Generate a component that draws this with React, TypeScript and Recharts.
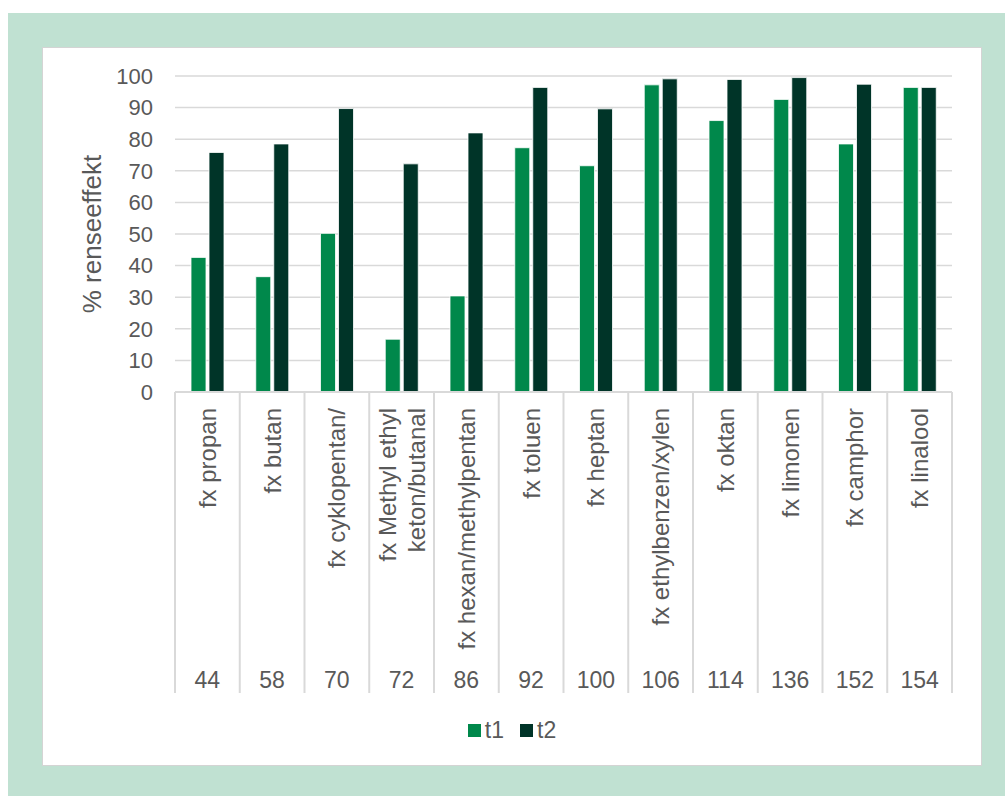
import React from 'react';
import { BarChart, Bar, XAxis, YAxis, CartesianGrid, Legend, Label } from 'recharts';

const categories = [
  'fx propan',
  'fx butan',
  'fx cyklopentan/',
  'fx Methyl ethyl\nketon/butanal',
  'fx hexan/methylpentan',
  'fx toluen',
  'fx heptan',
  'fx ethylbenzen/xylen',
  'fx oktan',
  'fx limonen',
  'fx camphor',
  'fx linalool',
];
const massNumbers = ['44', '58', '70', '72', '86', '92', '100', '106', '114', '136', '152', '154'];
const t1Values = [42.6, 36.5, 50.2, 16.7, 30.4, 77.3, 71.6, 97.2, 85.9, 92.6, 78.5, 96.4];
const t2Values = [75.8, 78.5, 89.7, 72.2, 82.0, 96.4, 89.6, 99.1, 98.9, 99.5, 97.4, 96.4];
const yTicks = [0, 10, 20, 30, 40, 50, 60, 70, 80, 90, 100];
const seriesNames = ['t1', 't2'];
const seriesColors = ['#00884B', '#003428'];

const data = categories.map((c, i) => ({ name: c, num: massNumbers[i], t1: t1Values[i], t2: t2Values[i] }));

const FONT = '"Liberation Sans", Arial, sans-serif';
const TEXT = '#595959';
const LINE = '#d9d9d9';
const CHART_W = 938;
const CHART_H = 717;
const MARGIN = { top: 28, right: 29, left: 0, bottom: 20 };
const YAXIS_W = 132;
const XAXIS_H = 323;
const SEP_LEN = 301;
const PLOT_W = CHART_W - YAXIS_W - MARGIN.left - MARGIN.right;
const BAND = PLOT_W / categories.length;

const CatTick = (props: any) => {
  const { x, y, payload, index } = props;
  const label: string = payload.value;
  const lines = label.split('\n');
  const lh = 29;
  const nameY = y + 16;
  return (
    <g>
      <line x1={x - BAND / 2} y1={y} x2={x - BAND / 2} y2={y + SEP_LEN} stroke={LINE} strokeWidth={2} />
      {index === categories.length - 1 && (
        <line x1={x + BAND / 2} y1={y} x2={x + BAND / 2} y2={y + SEP_LEN} stroke={LINE} strokeWidth={2} />
      )}
      {lines.map((ln, i) => {
        const lx = x + (i - (lines.length - 1) / 2) * lh;
        return (
          <text
            key={i}
            x={lx}
            y={nameY}
            transform={`rotate(-90 ${lx} ${nameY})`}
            textAnchor="end"
            dominantBaseline="central"
            fill={TEXT}
            fontSize={24}
            fontFamily={FONT}
          >
            {ln}
          </text>
        );
      })}
      <text x={x} y={y + 288} textAnchor="middle" dominantBaseline="central" fill={TEXT} fontSize={23} fontFamily={FONT}>
        {massNumbers[index]}
      </text>
    </g>
  );
};

const LegendContent = () => (
  <div style={{ height: 30, display: 'flex', justifyContent: 'center', alignItems: 'center', fontFamily: FONT, fontSize: 23, color: TEXT }}>
    {seriesNames.map((n, i) => (
      <div key={n} style={{ display: 'flex', alignItems: 'center', marginLeft: i === 0 ? 0 : 16 }}>
        <div style={{ width: 13, height: 13, background: seriesColors[i], marginRight: 4 }} />
        <span>{n}</span>
      </div>
    ))}
  </div>
);

export default function App() {
  return (
    <div style={{ position: 'absolute', left: 8, top: 13, width: 997, height: 783, background: '#C0E1D2' }}>
      <div
        style={{
          position: 'absolute',
          left: 35,
          top: 35,
          width: CHART_W,
          height: CHART_H,
          background: '#ffffff',
          boxShadow: '0 0 0 1px #d4d4d4',
        }}
      >
        <BarChart width={CHART_W} height={CHART_H} data={data} margin={MARGIN} barGap={3} barSize={15}>
          <CartesianGrid vertical={false} stroke={LINE} strokeWidth={1.5} />
          <XAxis
            dataKey="name"
            interval={0}
            tickLine={false}
            tickSize={0}
            tickMargin={0}
            height={XAXIS_H}
            axisLine={{ stroke: LINE, strokeWidth: 2 }}
            tick={<CatTick />}
          />
          <YAxis
            width={YAXIS_W}
            domain={[0, 100]}
            ticks={yTicks}
            interval={0}
            tickLine={false}
            axisLine={false}
            tickSize={0}
            tickMargin={22}
            tick={{ fill: TEXT, fontSize: 22, fontFamily: FONT }}
          >
            <Label
              content={(p: any) => {
                const vb = p.viewBox;
                const cx = vb.x + 49;
                const cy = vb.y + vb.height / 2;
                return (
                  <text
                    x={cx}
                    y={cy}
                    transform={`rotate(-90 ${cx} ${cy})`}
                    textAnchor="middle"
                    dominantBaseline="central"
                    fill={TEXT}
                    fontSize={26}
                    fontFamily={FONT}
                  >
                    % renseeffekt
                  </text>
                );
              }}
            />
          </YAxis>
          <Legend
            verticalAlign="bottom"
            content={<LegendContent />}
            wrapperStyle={{ top: 667, left: 0, width: CHART_W, height: 30 }}
          />
          <Bar dataKey="t1" name="t1" fill={seriesColors[0]} stroke="#ffffff" strokeWidth={0.8} isAnimationActive={false} />
          <Bar dataKey="t2" name="t2" fill={seriesColors[1]} stroke="#ffffff" strokeWidth={0.8} isAnimationActive={false} />
        </BarChart>
      </div>
    </div>
  );
}
